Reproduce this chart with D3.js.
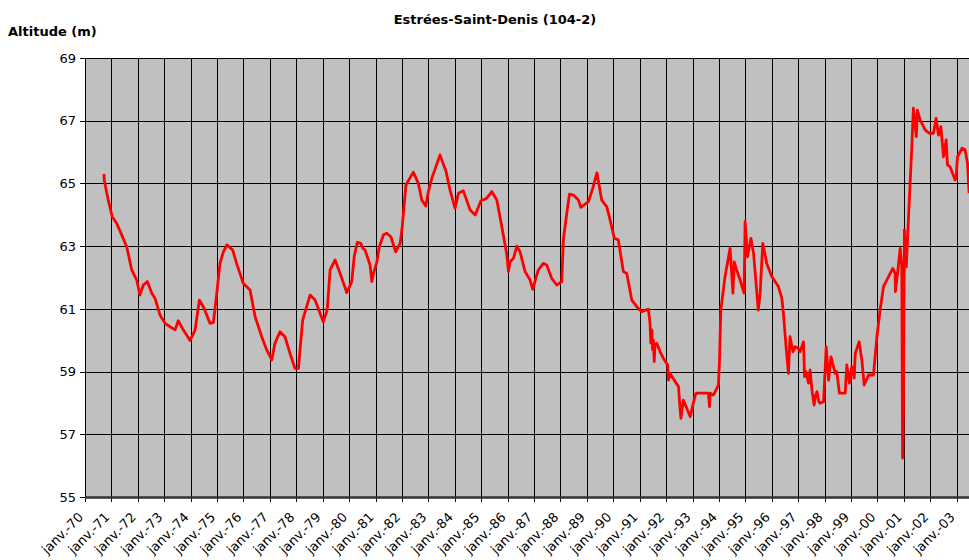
<!DOCTYPE html>
<html>
<head>
<meta charset="utf-8">
<script src="https://cdn.jsdelivr.net/npm/d3@7"></script>
<style>
  body { margin: 0; background: #fff; }
  text { font-family: "DejaVu Sans", Verdana, sans-serif; fill: #000; }
  .title { font-size: 13px; font-weight: bold; }
  .tick { font-size: 13px; }
  .xtick { font-size: 13px; }
</style>
</head>
<body>
<svg id="chart" width="969" height="560"></svg>
<script>
// sample dates as decimal years, water level in metres
var years = [
  1970.72, 1970.73, 1970.88, 1971.03, 1971.20, 1971.39, 1971.58, 1971.77, 1971.96, 1972.08,
  1972.21, 1972.36, 1972.53, 1972.65, 1972.84, 1973.03, 1973.22, 1973.41, 1973.53, 1973.72,
  1973.98, 1974.17, 1974.33, 1974.51, 1974.73, 1974.86, 1974.99, 1975.11, 1975.24, 1975.37,
  1975.59, 1975.74, 1975.99, 1976.25, 1976.44, 1976.69, 1976.88, 1977.07, 1977.19, 1977.38,
  1977.57, 1977.76, 1977.95, 1978.08, 1978.24, 1978.52, 1978.71, 1979.02, 1979.17, 1979.28,
  1979.47, 1979.66, 1979.91, 1980.10, 1980.19, 1980.31, 1980.44, 1980.52, 1980.60, 1980.79,
  1980.86, 1980.92, 1981.05, 1981.14, 1981.30, 1981.42, 1981.58, 1981.76, 1981.93, 1982.01,
  1982.15, 1982.43, 1982.62, 1982.75, 1982.90, 1983.00, 1983.13, 1983.44, 1983.67, 1983.82,
  1984.01, 1984.14, 1984.32, 1984.58, 1984.77, 1984.99, 1985.21, 1985.40, 1985.59, 1985.78,
  1985.97, 1986.03, 1986.09, 1986.22, 1986.35, 1986.47, 1986.66, 1986.85, 1986.95, 1987.16,
  1987.35, 1987.48, 1987.67, 1987.86, 1988.05, 1988.11, 1988.24, 1988.34, 1988.49, 1988.68,
  1988.77, 1989.06, 1989.22, 1989.38, 1989.56, 1989.75, 1989.88, 1990.04, 1990.19, 1990.38,
  1990.51, 1990.70, 1990.89, 1991.08, 1991.33, 1991.39, 1991.42, 1991.46, 1991.49, 1991.52,
  1991.55, 1991.58, 1991.65, 1991.77, 1991.90, 1992.06, 1992.09, 1992.15, 1992.34, 1992.47,
  1992.52, 1992.56, 1992.65, 1992.78, 1992.91, 1993.10, 1993.14, 1993.60, 1993.64, 1993.67,
  1993.79, 1993.98, 1994.02, 1994.07, 1994.23, 1994.42, 1994.53, 1994.58, 1994.65, 1994.80,
  1994.95, 1994.99, 1995.08, 1995.21, 1995.31, 1995.49, 1995.56, 1995.66, 1995.81, 1996.00,
  1996.25, 1996.38, 1996.44, 1996.54, 1996.63, 1996.69, 1996.80, 1996.88, 1997.00, 1997.07,
  1997.20, 1997.24, 1997.29, 1997.39, 1997.45, 1997.52, 1997.60, 1997.66, 1997.71, 1997.78,
  1997.83, 1997.96, 1998.06, 1998.15, 1998.24, 1998.40, 1998.46, 1998.56, 1998.78, 1998.84,
  1998.94, 1999.03, 1999.12, 1999.16, 1999.31, 1999.37, 1999.41, 1999.50, 1999.66, 1999.85,
  1999.98, 2000.10, 2000.23, 2000.42, 2000.58, 2000.67, 2000.68, 2000.76, 2000.86, 2000.92,
  2000.95, 2000.98, 2001.02, 2001.09, 2001.17, 2001.30, 2001.36, 2001.47, 2001.51, 2001.62,
  2001.81, 2001.97, 2002.12, 2002.22, 2002.31, 2002.40, 2002.50, 2002.60, 2002.65, 2002.75,
  2002.94, 2002.98, 2003.03, 2003.20, 2003.32, 2003.41, 2003.47
];
var levels = [
  65.30, 65.10, 64.47, 63.94, 63.73, 63.36, 62.98, 62.24, 61.92, 61.44,
  61.76, 61.87, 61.50, 61.34, 60.80, 60.54, 60.43, 60.33, 60.62, 60.33,
  59.99, 60.33, 61.28, 61.02, 60.54, 60.56, 61.50, 62.45, 62.82, 63.04,
  62.88, 62.45, 61.82, 61.60, 60.75, 60.11, 59.69, 59.37, 59.90, 60.27,
  60.11, 59.58, 59.10, 59.10, 60.64, 61.44, 61.28, 60.59, 60.96, 62.24,
  62.56, 62.13, 61.52, 61.87, 62.66, 63.12, 63.09, 62.93, 62.88, 62.40,
  61.87, 62.13, 62.50, 62.98, 63.36, 63.41, 63.30, 62.82, 63.09, 63.62,
  64.95, 65.36, 65.00, 64.47, 64.28, 64.74, 65.16, 65.91, 65.38, 64.79,
  64.21, 64.69, 64.77, 64.15, 63.99, 64.45, 64.53, 64.74, 64.47, 63.62,
  62.72, 62.19, 62.50, 62.61, 63.00, 62.82, 62.19, 61.92, 61.62, 62.24,
  62.45, 62.40, 61.97, 61.76, 61.87, 63.20, 64.05, 64.66, 64.63, 64.47,
  64.24, 64.42, 64.84, 65.34, 64.47, 64.26, 63.83, 63.25, 63.20, 62.19,
  62.13, 61.28, 61.07, 60.91, 60.99, 60.55, 59.91, 60.33, 59.69, 60.00,
  59.32, 59.85, 59.90, 59.64, 59.42, 59.21, 58.73, 58.94, 58.68, 58.52,
  57.88, 57.51, 58.09, 57.83, 57.56, 58.25, 58.31, 58.31, 57.88, 58.31,
  58.25, 58.57, 59.37, 60.96, 62.03, 62.93, 61.50, 62.50, 62.29, 61.92,
  61.50, 63.78, 62.66, 63.25, 62.77, 60.96, 61.50, 63.09, 62.45, 62.03,
  61.71, 61.34, 60.86, 59.79, 58.94, 60.11, 59.63, 59.79, 59.74, 59.63,
  59.95, 58.84, 59.00, 58.63, 59.05, 58.41, 57.93, 58.25, 58.36, 58.04,
  57.99, 58.04, 59.79, 58.73, 59.47, 58.94, 59.00, 58.31, 58.31, 59.21,
  58.63, 59.16, 58.79, 59.58, 59.95, 59.58, 59.37, 58.57, 58.89, 58.89,
  60.11, 60.96, 61.71, 62.03, 62.29, 62.13, 61.55, 62.13, 62.93, 62.34,
  56.24, 57.67, 63.52, 62.34, 63.83, 66.17, 67.40, 66.49, 67.34, 67.02,
  66.70, 66.60, 66.60, 67.08, 66.54, 66.81, 65.85, 66.39, 65.59, 65.53,
  65.11, 65.21, 65.85, 66.12, 66.07, 65.64, 64.69
];
var yTicks = [55, 57, 59, 61, 63, 65, 67, 69];
var tickYears = d3.range(1970, 2004);
var title = "Estrées-Saint-Denis (104-2)";
var yTitle = "Altitude (m)";

function toDate(y)
{
    var yr = Math.floor(y),
        s = new Date(yr, 0, 1),
        e = new Date(yr + 1, 0, 1);
    return new Date(+s + (y - yr) * (e - s));
}

var svg = d3.select("#chart"),
    plotLeft = 85, plotTop = 58, plotBottom = 497, plotRight = 969;

var x = d3.scaleTime()
          .domain([new Date(1970, 0, 1), new Date(2003, 0, 1)])
          .range([plotLeft, 956.7]);
var y = d3.scaleLinear().domain([55, 69]).range([plotBottom, plotTop]);

// plot background
svg.append("rect")
   .attr("x", plotLeft).attr("y", plotTop)
   .attr("width", plotRight - plotLeft).attr("height", plotBottom - plotTop)
   .attr("fill", "#c0c0c0");

// vertical grid (one line per january)
svg.append("g").selectAll("line")
   .data(tickYears)
   .enter().append("line")
   .attr("x1", function(d) { return Math.round(x(new Date(d, 0, 1))) + 0.5; })
   .attr("x2", function(d) { return Math.round(x(new Date(d, 0, 1))) + 0.5; })
   .attr("y1", plotTop).attr("y2", plotBottom + 5)
   .attr("stroke", "#000").attr("stroke-width", 1);

// horizontal grid + y ticks
svg.append("g").selectAll("line")
   .data(yTicks)
   .enter().append("line")
   .attr("x1", plotLeft - 5).attr("x2", plotRight)
   .attr("y1", function(d) { return Math.round(y(d)) + 0.5; })
   .attr("y2", function(d) { return Math.round(y(d)) + 0.5; })
   .attr("stroke", "#000").attr("stroke-width", 1);

svg.append("g").selectAll("text")
   .data(yTicks)
   .enter().append("text")
   .attr("class", "tick")
   .attr("x", plotLeft - 9)
   .attr("y", function(d) { return y(d); })
   .attr("dy", "0.36em")
   .attr("text-anchor", "end")
   .text(function(d) { return d; });

// axis lines
svg.append("line")
   .attr("x1", plotLeft + 0.5).attr("x2", plotLeft + 0.5)
   .attr("y1", plotTop).attr("y2", plotBottom)
   .attr("stroke", "#000");

// the series
var pts = years.map(function(d, i) { return [toDate(d), levels[i]]; });
var line = d3.line()
             .x(function(d) { return x(d[0]); })
             .y(function(d) { return y(d[1]); });
svg.append("path")
   .datum(pts)
   .attr("d", line)
   .attr("fill", "none")
   .attr("stroke", "#ff0000")
   .attr("stroke-width", 2.8)
   .attr("stroke-linejoin", "round");

svg.append("line")
   .attr("x1", plotLeft).attr("x2", plotRight)
   .attr("y1", plotBottom + 0.5).attr("y2", plotBottom + 0.5)
   .attr("stroke", "#333").attr("stroke-width", 2.5);

// x labels, rotated
svg.append("g").selectAll("text")
   .data(tickYears)
   .enter().append("text")
   .attr("class", "xtick")
   .attr("text-anchor", "end")
   .attr("transform", function(d) {
       return "translate(" + (x(new Date(d, 0, 1)) - 1) + "," + (plotBottom + 21) + ") rotate(-45)";
   })
   .text(function(d) { return "janv.-" + String(d % 100).padStart(2, "0"); });

// titles
svg.append("text")
   .attr("class", "title")
   .attr("x", 495).attr("y", 24)
   .attr("text-anchor", "middle")
   .text(title);
svg.append("text")
   .attr("class", "title")
   .attr("x", 8).attr("y", 36)
   .text(yTitle);
</script>
</body>
</html>
